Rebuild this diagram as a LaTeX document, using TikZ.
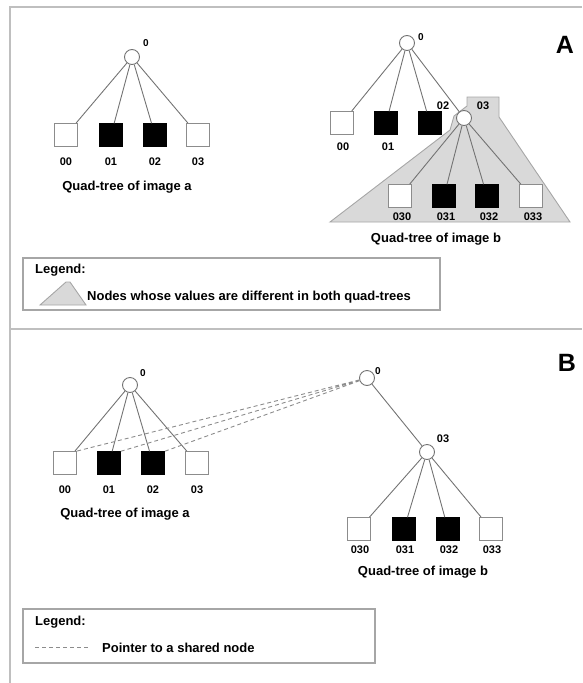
\documentclass[tikz,border=0pt]{standalone}
\usepackage{fontspec}
\setmainfont{Liberation Sans}
\usetikzlibrary{positioning}

\tikzset{
    qnode/.style={circle, draw=black!55, fill=white, minimum size=15pt, inner sep=0pt, line width=0.9pt},
    wleaf/.style={rectangle, draw=black!45, fill=white, minimum size=23pt, inner sep=0pt, line width=0.9pt},
    bleaf/.style={rectangle, draw=black, fill=black, minimum size=23pt, inner sep=0pt},
    leaflbl/.style={font=\bfseries\fontsize{11}{12}\selectfont, inner sep=0pt},
    rootlbl/.style={font=\bfseries\fontsize{10}{11}\selectfont, inner sep=0pt},
    captxt/.style={font=\bfseries\fontsize{13}{15}\selectfont, inner sep=0pt},
    legtxt/.style={font=\bfseries\fontsize{13}{15}\selectfont, inner sep=0pt, anchor=west},
    panelltr/.style={font=\bfseries\fontsize{25}{28}\selectfont, inner sep=0pt},
    branch/.style={draw=black!55, line width=0.9pt},
    pointer/.style={draw=black!45, dash pattern=on 4pt off 3pt, line width=0.9pt},
    framing/.style={draw=black!25, line width=2pt},
    legbox/.style={draw=black!35, line width=1.2pt},
    diffarea/.style={fill=black!15, draw=black!35, line width=0.9pt}
}

\begin{document}
\begin{tikzpicture}[x=1pt, y=-1pt]
    \useasboundingbox (0, 0) rectangle (582, 683);

    % frame of both panels
    \draw[framing] (582, 7) -- (10, 7) -- (10, 683);
    \draw[framing] (10, 329) -- (582, 329);

    % region A: differing nodes
    \draw[diffarea] (330, 222) -- (450, 130) -- (454, 116) -- (467, 106) -- (467, 97)
        -- (499, 97) -- (499, 117) -- (570, 222) -- cycle;

    % panel A, quad-tree of image a
    \node[qnode] (aa0) at (132, 57) {};
    \node[rootlbl] (aa0l) at (146, 43) {0};
    \node[wleaf] (aa00) at (66, 135) {};
    \node[bleaf] (aa01) at (111, 135) {};
    \node[bleaf] (aa02) at (155, 135) {};
    \node[wleaf] (aa03) at (198, 135) {};
    \node[leaflbl] (aa00l) at (66, 162) {00};
    \node[leaflbl] (aa01l) at (111, 162) {01};
    \node[leaflbl] (aa02l) at (155, 162) {02};
    \node[leaflbl] (aa03l) at (198, 162) {03};
    \node[captxt] (aacap) at (127, 187) {Quad-tree of image a};

    % panel A, quad-tree of image b
    \node[qnode] (ab0) at (407, 43) {};
    \node[rootlbl] (ab0l) at (421, 37) {0};
    \node[wleaf] (ab00) at (342, 123) {};
    \node[bleaf] (ab01) at (386, 123) {};
    \node[bleaf] (ab02) at (430, 123) {};
    \node[qnode] (ab03) at (464, 118) {};
    \node[leaflbl] (ab00l) at (343, 147) {00};
    \node[leaflbl] (ab01l) at (388, 147) {01};
    \node[leaflbl] (ab02l) at (443, 106) {02};
    \node[leaflbl] (ab03l) at (483, 106) {03};
    \node[wleaf] (ab030) at (400, 196) {};
    \node[bleaf] (ab031) at (444, 196) {};
    \node[bleaf] (ab032) at (487, 196) {};
    \node[wleaf] (ab033) at (531, 196) {};
    \node[leaflbl] (ab030l) at (402, 217) {030};
    \node[leaflbl] (ab031l) at (446, 217) {031};
    \node[leaflbl] (ab032l) at (489, 217) {032};
    \node[leaflbl] (ab033l) at (533, 217) {033};
    \node[captxt] (abcap) at (436, 239) {Quad-tree of image b};

    \node[panelltr] (ltrA) at (565, 45) {A};

    \draw[branch]
    (aa0) -- (aa00)
    (aa0) -- (aa01)
    (aa0) -- (aa02)
    (aa0) -- (aa03)
    (ab0) -- (ab00)
    (ab0) -- (ab01)
    (ab0) -- (ab02)
    (ab0) -- (ab03)
    (ab03) -- (ab030)
    (ab03) -- (ab031)
    (ab03) -- (ab032)
    (ab03) -- (ab033);

    % legend of panel A
    \draw[legbox] (23, 258) rectangle (440, 310);
    \node[legtxt] (lega) at (35, 270) {Legend:};
    \draw[diffarea] (40, 305) -- (66, 282) -- (70, 282) -- (86, 305) -- cycle;
    \node[legtxt] (legatxt) at (87, 297) {Nodes whose values are different in both quad-trees};

    % panel B, quad-tree of image a
    \node[qnode] (ba0) at (130, 385) {};
    \node[rootlbl] (ba0l) at (143, 373) {0};
    \node[wleaf] (ba00) at (65, 463) {};
    \node[bleaf] (ba01) at (109, 463) {};
    \node[bleaf] (ba02) at (153, 463) {};
    \node[wleaf] (ba03) at (197, 463) {};
    \node[leaflbl] (ba00l) at (65, 490) {00};
    \node[leaflbl] (ba01l) at (109, 490) {01};
    \node[leaflbl] (ba02l) at (153, 490) {02};
    \node[leaflbl] (ba03l) at (197, 490) {03};
    \node[captxt] (bacap) at (125, 514) {Quad-tree of image a};

    % panel B, quad-tree of image b
    \node[qnode] (bb0) at (367, 378) {};
    \node[rootlbl] (bb0l) at (378, 371) {0};
    \node[qnode] (bb03) at (427, 452) {};
    \node[leaflbl] (bb03l) at (443, 439) {03};
    \node[wleaf] (bb030) at (359, 529) {};
    \node[bleaf] (bb031) at (404, 529) {};
    \node[bleaf] (bb032) at (448, 529) {};
    \node[wleaf] (bb033) at (491, 529) {};
    \node[leaflbl] (bb030l) at (360, 550) {030};
    \node[leaflbl] (bb031l) at (405, 550) {031};
    \node[leaflbl] (bb032l) at (449, 550) {032};
    \node[leaflbl] (bb033l) at (492, 550) {033};
    \node[captxt] (bbcap) at (423, 572) {Quad-tree of image b};

    \node[panelltr] (ltrB) at (567, 363) {B};

    \draw[branch]
    (ba0) -- (ba00)
    (ba0) -- (ba01)
    (ba0) -- (ba02)
    (ba0) -- (ba03)
    (bb0) -- (bb03)
    (bb03) -- (bb030)
    (bb03) -- (bb031)
    (bb03) -- (bb032)
    (bb03) -- (bb033);

    % shared nodes
    \draw[pointer]
    (bb0) -- (ba00.north east)
    (bb0) -- (ba01.north east)
    (bb0) -- (ba02.north east);

    % legend of panel B
    \draw[legbox] (23, 609) rectangle (375, 663);
    \node[legtxt] (legb) at (35, 622) {Legend:};
    \coordinate (legbs) at (35, 647);
    \coordinate (legbe) at (90, 647);
    \draw[pointer] (legbs) -- (legbe);
    \node[legtxt] (legbtxt) at (102, 648) {Pointer to a shared node};
\end{tikzpicture}
\end{document}
